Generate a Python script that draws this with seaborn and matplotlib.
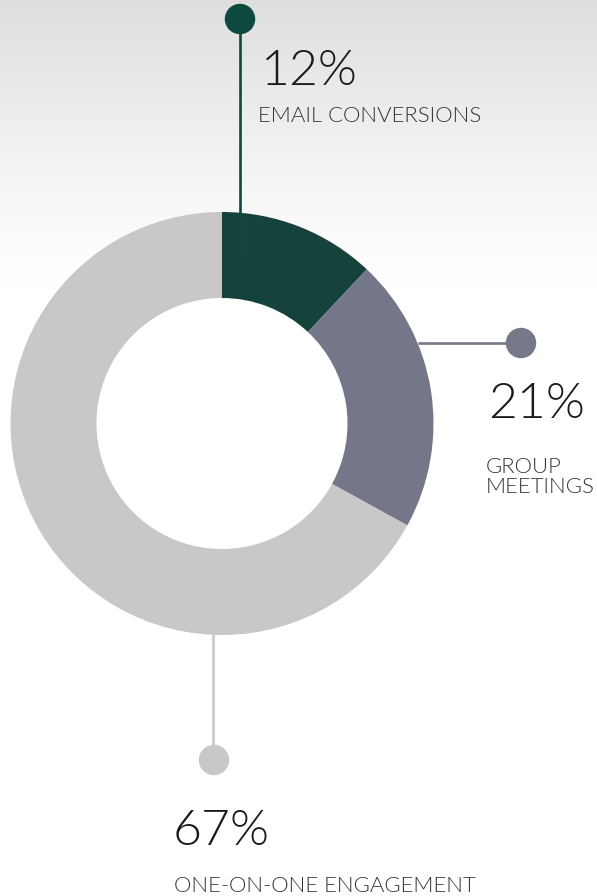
import matplotlib
matplotlib.use("Agg")

import matplotlib.pyplot as plt
import numpy as np
import pandas as pd
import seaborn as sns

# data
categories = ["EMAIL CONVERSIONS", "GROUP\nMEETINGS", "ONE-ON-ONE ENGAGEMENT"]
shares = [12, 21, 67]
pct_labels = ["12%", "21%", "67%"]
colors = ["#15433C", "#747789", "#C9C8C6"]
dot_colors = ["#0C4A3F", "#757889", "#C9C8C6"]

W, H = 597, 896


def py(y):
    # pixel row (from top) -> data y
    return H - y


sns.set_theme(style="white")
plt.rcParams["font.family"] = ["Lato", "DejaVu Sans"]

fig = plt.figure(figsize=(W / 100, H / 100), dpi=100)
ax = fig.add_axes([0, 0, 1, 1])

# soft grey backdrop at the top, fading to white
rows = np.arange(H)
fade = np.clip(1 - rows / 285.0, 0, 1) ** 1.2
grey = 1 - 0.13 * fade
bg = np.repeat(grey[:, None], 2, axis=1)
bg = np.dstack([bg, bg, bg])
ax.imshow(bg, extent=(0, W, 0, H), aspect="auto", zorder=0, interpolation="bilinear")

# donut
cx, cy, r_out, ring = 222, py(423.5), 211.5, 86
ax.pie(shares, colors=colors, startangle=90, counterclock=False,
       center=(cx, cy), radius=r_out,
       wedgeprops=dict(width=ring, linewidth=0), frame=True)

# leader lines (layout)
leaders = [
    ([240, 240], [py(259), py(19)]),
    ([418, 521], [py(343), py(343)]),
    ([213, 213], [py(634), py(760)]),
]
for (xs, ys), c in zip(leaders, dot_colors):
    ax.plot(xs, ys, color=c, lw=1.9, solid_capstyle="butt", zorder=3)

dots = pd.DataFrame({
    "x": [240, 521, 214],
    "y": [py(19), py(343), py(760)],
    "category": categories,
})
sns.scatterplot(data=dots, x="x", y="y", hue="category", palette=dot_colors,
                s=480, linewidth=0, legend=False, ax=ax, zorder=4)

# labels -- Lato Light (numeric 300; "light" maps to 200 in matplotlib)
txt = dict(fontfamily=["Lato", "DejaVu Sans"], fontweight=300, va="baseline", ha="left")
pct_pos = [(261, 85), (488, 418), (173, 845)]
cat_pos = [(258, 122), (486, 473), (174, 892)]
line_step = 20
for s, (x, y) in zip(pct_labels, pct_pos):
    ax.text(x, py(y), s, fontsize=36, color="#1a1a1a", zorder=5, **txt)
for s, (x, y) in zip(categories, cat_pos):
    for i, part in enumerate(s.split("\n")):
        ax.text(x, py(y + i * line_step), part, fontsize=15.9, color="#333333",
                zorder=5, **txt)

ax.set_xlim(0, W)
ax.set_ylim(0, H)
ax.set_aspect("auto")
ax.axis("off")

fig.savefig("out.png", dpi=100)
